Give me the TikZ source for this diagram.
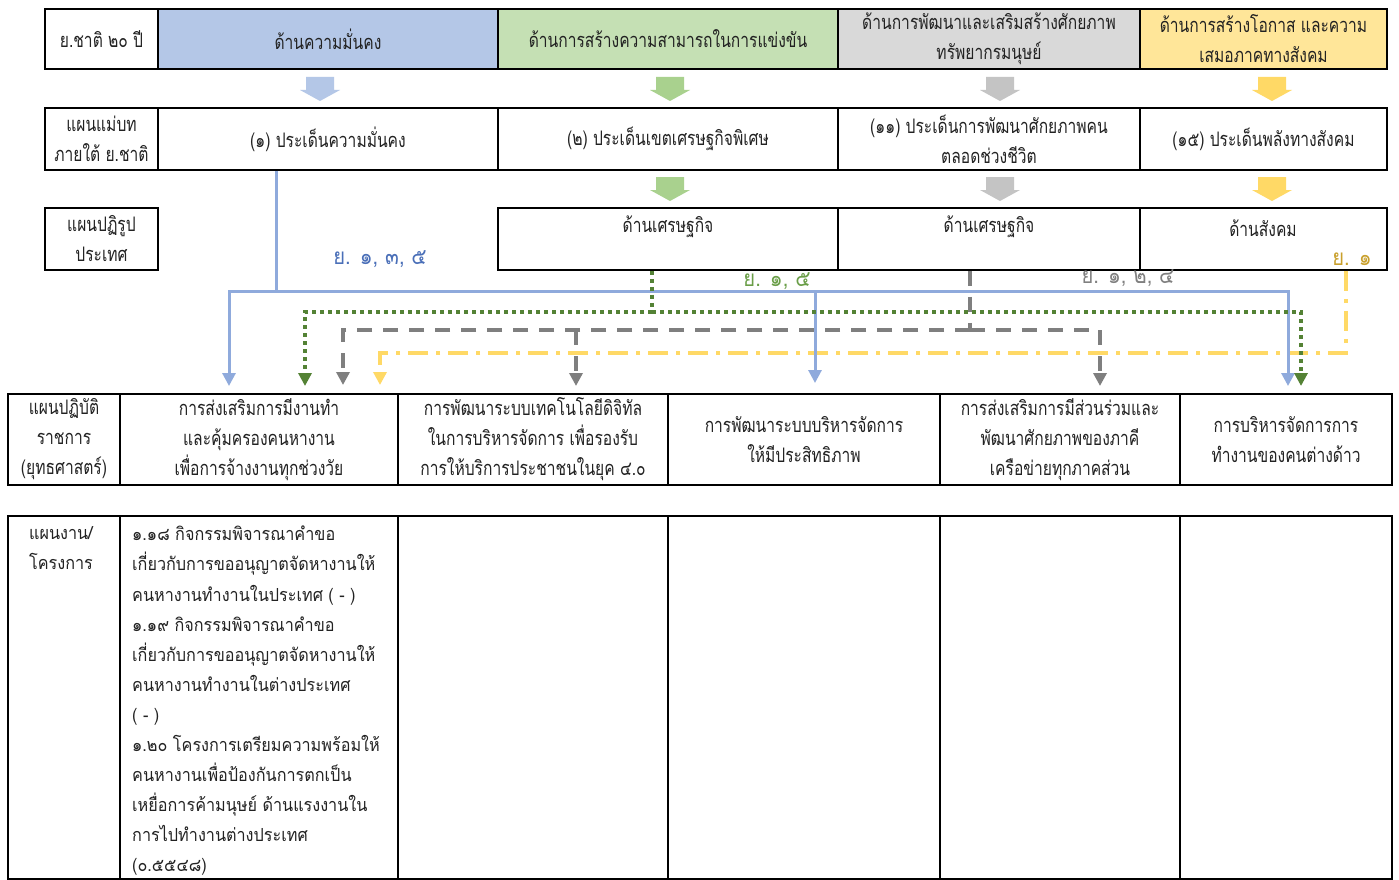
\documentclass[tikz,border=0pt]{standalone}
\usepackage{fontspec}
\usetikzlibrary{arrows.meta}
\newfontfamily\thn[Script=Thai,FakeStretch=0.78]{Loma}
\newfontfamily\thw[Script=Thai,FakeStretch=0.9]{Loma}
\definecolor{txt}{HTML}{222222}
\definecolor{fBlue}{HTML}{B4C7E7}
\definecolor{fGreen}{HTML}{C5E0B4}
\definecolor{fGray}{HTML}{D9D9D9}
\definecolor{fYellow}{HTML}{FFE699}
\definecolor{aBlue}{HTML}{B4C7E7}
\definecolor{aGreen}{HTML}{A9D18E}
\definecolor{aGray}{HTML}{C4C4C4}
\definecolor{aYellow}{HTML}{FFD966}
\definecolor{lBlue}{HTML}{8FAADC}
\definecolor{lGreen}{HTML}{548235}
\definecolor{lGray}{HTML}{7F7F7F}
\definecolor{lYellow}{HTML}{FFD966}
\definecolor{tBlue}{HTML}{4A6FB8}
\definecolor{tGreen}{HTML}{6A9E48}
\definecolor{tGray}{HTML}{808080}
\definecolor{tGold}{HTML}{C9A02C}
\tikzset{
  cell/.style={draw=black, line width=1.6pt, inner sep=0pt, align=center, text=txt,
    font=\thn\fontsize{20}{30}\selectfont},
  celltext/.style={inner sep=0pt, align=center, text=txt, font=\thn\fontsize{20}{30}\selectfont},
  listtext/.style={inner sep=0pt, align=left, text=txt, font=\thw\fontsize{18}{30.1}\selectfont},
  lbl/.style={inner sep=0pt, font=\thw\fontsize{22.5}{29}\selectfont},
  tipA/.style={-{Triangle[width=13pt,length=13pt]}},
  bline/.style={draw=lBlue, line width=3pt},
  gline/.style={draw=lGreen, line width=4pt, dash pattern=on 4pt off 4pt},
  hline/.style={draw=lGray, line width=4pt, dash pattern=on 15pt off 11pt},
  yline/.style={draw=lYellow, line width=4pt, dash pattern=on 20pt off 8pt on 4pt off 8pt},
}
\newcommand\blockarrow[4]{% color, cx, ytop, ytip
  \fill[#1] (#2-14,#3) -- (#2+14,#3) -- (#2+14,#4-11) -- (#2+20,#4-11) -- (#2,#4) -- (#2-20,#4-11) -- (#2-14,#4-11) -- cycle;}
\begin{document}
\begin{tikzpicture}[x=1pt,y=-1pt]
\useasboundingbox (0,0) rectangle (1399,880);
\fill[white] (0,0) rectangle (1399,880);

% ---------- row 1 ----------
\node[cell, minimum width=113pt, minimum height=60pt] (r1a) at (101.5,39) {ย.ชาติ ๒๐ ปี};
\node[cell, fill=fBlue, minimum width=340pt, minimum height=60pt] (r1b) at (328,39) {ด้านความมั่นคง};
\node[cell, fill=fGreen, minimum width=340pt, minimum height=60pt] (r1c) at (668,39) {ด้านการสร้างความสามารถในการแข่งขัน};
\node[cell, fill=fGray, minimum width=302pt, minimum height=60pt] (r1d) at (989,39) {ด้านการพัฒนาและเสริมสร้างศักยภาพ\\ทรัพยากรมนุษย์};
\node[cell, fill=fYellow, minimum width=247pt, minimum height=60pt] (r1e) at (1263.5,39) {ด้านการสร้างโอกาส และความ\\เสมอภาคทางสังคม};

% ---------- block arrows row1 -> row2 ----------
\blockarrow{aBlue}{320}{77}{101}
\blockarrow{aGreen}{670}{77}{101}
\blockarrow{aGray}{1000}{77}{101}
\blockarrow{aYellow}{1272}{77}{101}

% ---------- row 2 ----------
\node[cell, minimum width=113pt, minimum height=62pt] (r2a) at (101.5,139) {แผนแม่บท\\ภายใต้ ย.ชาติ};
\node[cell, minimum width=340pt, minimum height=62pt] (r2b) at (328,139) {(๑) ประเด็นความมั่นคง};
\node[cell, minimum width=340pt, minimum height=62pt] (r2c) at (668,139) {(๒) ประเด็นเขตเศรษฐกิจพิเศษ};
\node[cell, minimum width=302pt, minimum height=62pt] (r2d) at (989,139) {(๑๑) ประเด็นการพัฒนาศักยภาพคน\\ตลอดช่วงชีวิต};
\node[cell, minimum width=247pt, minimum height=62pt] (r2e) at (1263.5,139) {(๑๕) ประเด็นพลังทางสังคม};

% ---------- block arrows row2 -> row3 ----------
\blockarrow{aGreen}{670}{177}{201}
\blockarrow{aGray}{1000}{177}{201}
\blockarrow{aYellow}{1272}{177}{201}

% ---------- row 3 ----------
\node[cell, minimum width=113pt, minimum height=62pt] (r3a) at (101.5,239) {แผนปฏิรูป\\ประเทศ};
\node[cell, minimum width=340pt, minimum height=62pt] (r3b) at (668,239) {};
\node[cell, minimum width=302pt, minimum height=62pt] (r3c) at (989,239) {};
\node[cell, minimum width=247pt, minimum height=62pt] (r3d) at (1263.5,239) {};
\node[celltext] (r3bt) at (668,227) {ด้านเศรษฐกิจ};
\node[celltext] (r3ct) at (989,227) {ด้านเศรษฐกิจ};
\node[celltext] (r3dt) at (1263,228) {ด้านสังคม};

% ---------- row 4 ----------
\node[cell, minimum width=112pt, minimum height=91pt] (r4a) at (64,439.5) {แผนปฏิบัติ\\ราชการ\\(ยุทธศาสตร์)};
\node[cell, minimum width=278pt, minimum height=91pt] (r4b) at (259,439.5) {การส่งเสริมการมีงานทำ\\และคุ้มครองคนหางาน\\เพื่อการจ้างงานทุกช่วงวัย};
\node[cell, minimum width=270pt, minimum height=91pt] (r4c) at (533,439.5) {การพัฒนาระบบเทคโนโลยีดิจิทัล\\ในการบริหารจัดการ เพื่อรองรับ\\การให้บริการประชาชนในยุค ๔.๐};
\node[cell, minimum width=272pt, minimum height=91pt] (r4d) at (804,439.5) {การพัฒนาระบบบริหารจัดการ\\ให้มีประสิทธิภาพ};
\node[cell, minimum width=240pt, minimum height=91pt] (r4e) at (1060,439.5) {การส่งเสริมการมีส่วนร่วมและ\\พัฒนาศักยภาพของภาคี\\เครือข่ายทุกภาคส่วน};
\node[cell, minimum width=212pt, minimum height=91pt] (r4f) at (1286,439.5) {การบริหารจัดการการ\\ทำงานของคนต่างด้าว};

% ---------- row 5 ----------
\node[cell, minimum width=112pt, minimum height=363pt] (r5a) at (64,697.5) {};
\node[cell, minimum width=278pt, minimum height=363pt] (r5b) at (259,697.5) {};
\node[cell, minimum width=270pt, minimum height=363pt] (r5c) at (533,697.5) {};
\node[cell, minimum width=272pt, minimum height=363pt] (r5d) at (804,697.5) {};
\node[cell, minimum width=240pt, minimum height=363pt] (r5e) at (1060,697.5) {};
\node[cell, minimum width=212pt, minimum height=363pt] (r5f) at (1286,697.5) {};
\node[listtext, align=center, anchor=north] (r5at) at (61,526) {แผนงาน/\\โครงการ};
\node[listtext, anchor=north west] (r5bt) at (132,526) {๑.๑๘ กิจกรรมพิจารณาคำขอ\\
เกี่ยวกับการขออนุญาตจัดหางานให้\\
คนหางานทำงานในประเทศ ( - )\\
๑.๑๙ กิจกรรมพิจารณาคำขอ\\
เกี่ยวกับการขออนุญาตจัดหางานให้\\
คนหางานทำงานในต่างประเทศ\\
( - )\\
๑.๒๐ โครงการเตรียมความพร้อมให้\\
คนหางานเพื่อป้องกันการตกเป็น\\
เหยื่อการค้ามนุษย์ ด้านแรงงานใน\\
การไปทำงานต่างประเทศ\\
(๐.๕๕๔๘)};

% ---------- labels ----------
\node[lbl, text=tBlue] (lb1) at (380,259) {ย. ๑, ๓, ๕};
\node[lbl, text=tGreen] (lb2) at (777,281) {ย. ๑, ๕};
\node[lbl, text=tGray] (lb3) at (1128,278) {ย. ๑, ๒, ๔};
\node[lbl, text=tGold] (lb4) at (1352,259) {ย. ๑};

% ---------- connector junctions and ends ----------
\coordinate (bj) at (276,291);
\coordinate (gj) at (652,312);
\coordinate (hj) at (970,330);
\coordinate (yj) at (1346,353);
\coordinate (tb1) at (229,386);
\coordinate (tb2) at (815,383);
\coordinate (tb3) at (1288,386);
\coordinate (tg1) at (305,386);
\coordinate (tg2) at (1301,386);
\coordinate (th1) at (343,385);
\coordinate (th2) at (576,386);
\coordinate (th3) at (1100,386);
\coordinate (ty) at (380,385);

% yellow dash-dot
\draw[yline, tipA] (r3d.south -| yj) -- (yj) -| (ty);
% gray dashed
\draw[hline] (r3c.south -| hj) -- (hj);
\draw[hline, tipA] (hj) -| (th1);
\draw[hline, tipA] (hj) -| (th3);
\draw[hline, tipA] (hj -| th2) -- (th2);
% blue solid
\draw[bline] (r2b.south -| bj) -- (bj);
\draw[bline, tipA] (bj) -| (tb1);
\draw[bline, tipA] (bj) -| (tb3);
\draw[bline, tipA] (bj -| tb2) -- (tb2);
% green dotted
\draw[gline] (r3b.south -| gj) -- (gj);
\draw[gline, tipA] (gj) -| (tg1);
\draw[gline, tipA] (gj) -| (tg2);
\end{tikzpicture}
\end{document}
